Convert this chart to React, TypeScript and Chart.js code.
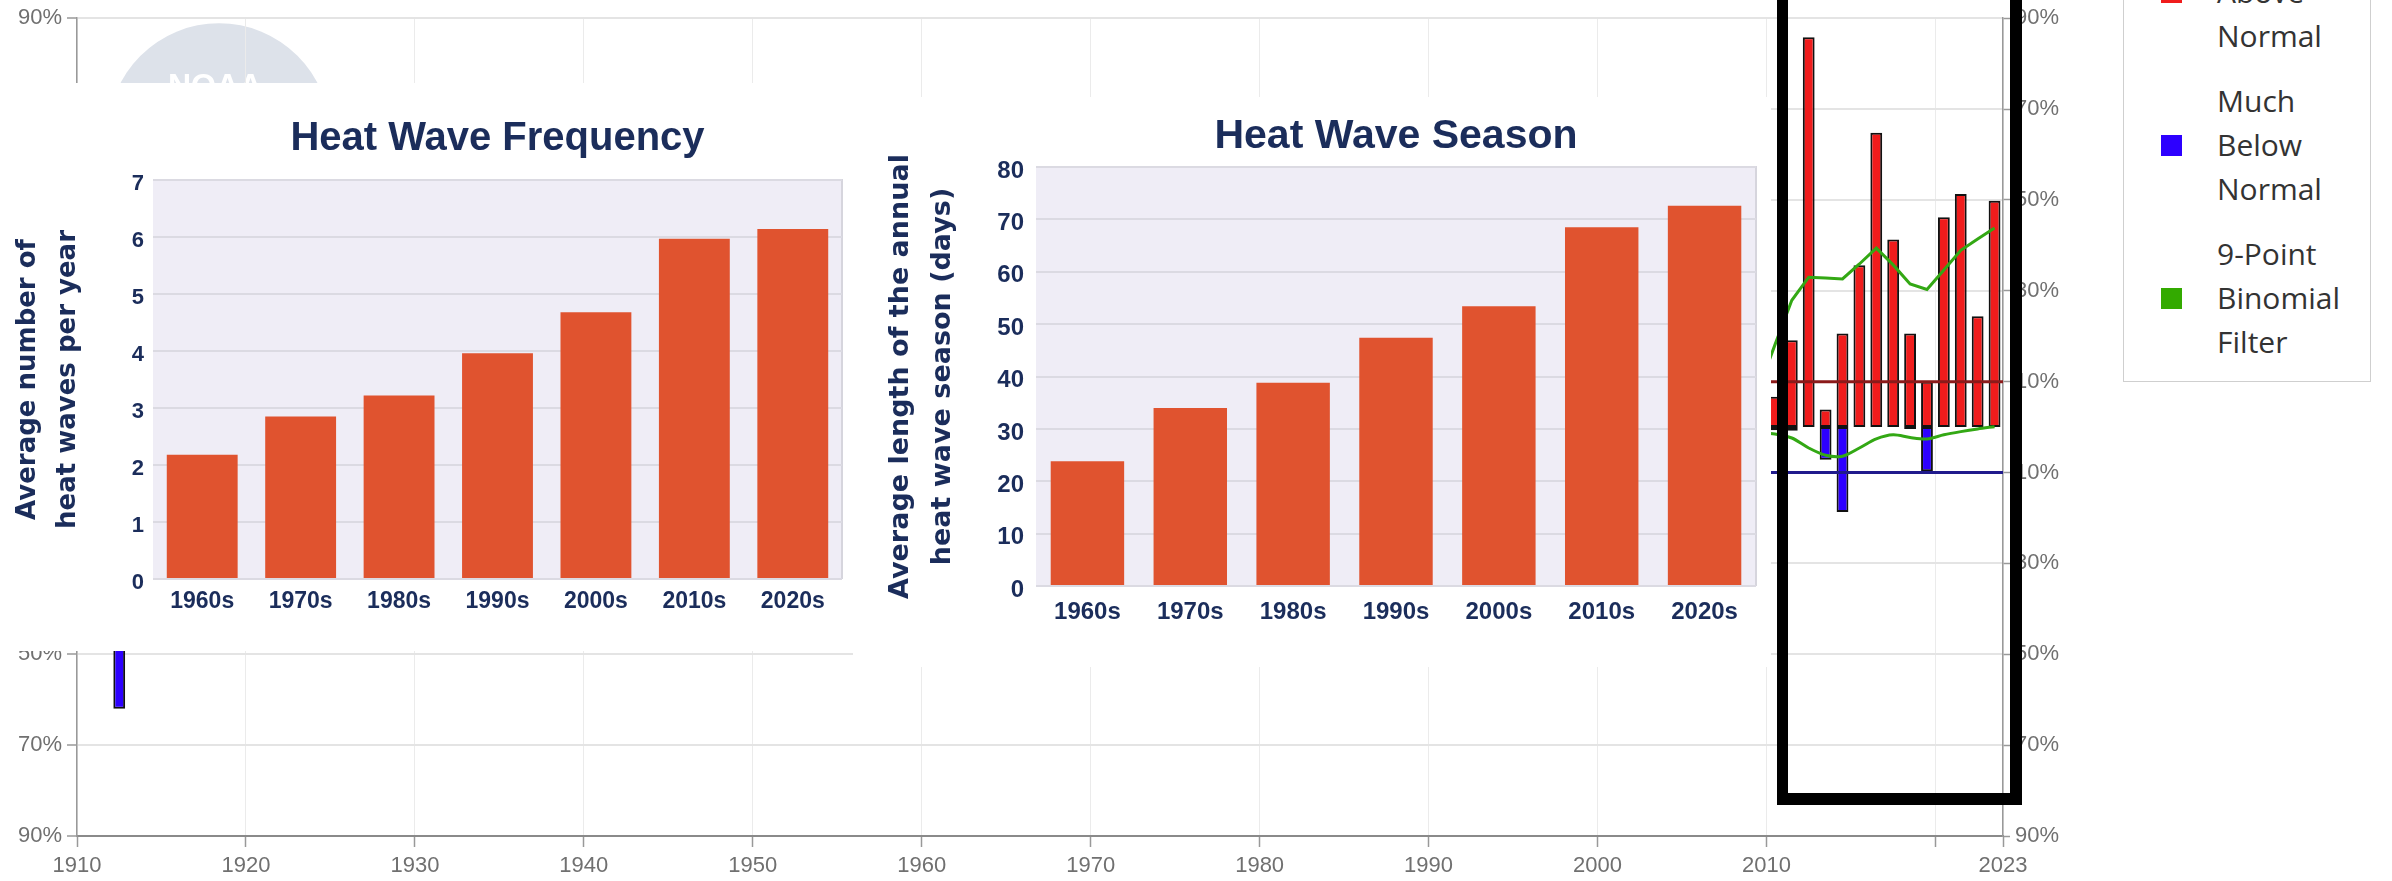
import React, { useEffect, useRef } from 'react';
import { Chart, registerables } from 'chart.js';

Chart.register(...registerables);

// ---------------- Background chart: percent of area much above / much below normal ----------------
const yearTicks = [1910, 1920, 1930, 1940, 1950, 1960, 1970, 1980, 1990, 2000, 2010, 2020, 2024];
const yearTickLabels = ['1910', '1920', '1930', '1940', '1950', '1960', '1970', '1980', '1990', '2000', '2010', '', '2023'];
const yearMin = 1910;
const yearMax = 2024;
const percentTicks = [-90, -70, -50, -30, -10, 10, 30, 50, 70, 90];

const aboveYears = [2010, 2011, 2012, 2013, 2014, 2015, 2016, 2017, 2018, 2019, 2020, 2021, 2022, 2023];
const aboveValues = [6.7, 19.1, 85.8, 3.9, 20.6, 35.6, 64.8, 41.3, 20.6, 10.0, 46.2, 51.3, 24.4, 49.8];

const belowYears = [1912, 2010, 2011, 2013, 2014, 2018, 2019];
const belowValues = [-62.0, -0.7, -0.8, -7.2, -18.7, -0.4, -9.7];

const filterYears = [2009, 2010, 2011, 2012, 2013, 2014, 2015, 2016, 2017, 2018, 2019, 2020, 2021, 2022, 2023];
const aboveFilter = [8.0, 18.1, 27.9, 33.0, 32.8, 32.6, 35.9, 39.4, 35.7, 31.5, 30.3, 34.6, 38.9, 41.4, 43.8];
const belowFilter = [-1.2, -1.5, -2.4, -4.6, -6.2, -6.4, -4.6, -2.6, -1.7, -2.3, -2.6, -1.7, -1.0, -0.4, 0.1];

const aboveMean = 10;
const belowMean = -10;

const legendLabels = [
  ['Much', 'Above', 'Normal'],
  ['Much', 'Below', 'Normal'],
  ['9-Point', 'Binomial', 'Filter'],
];
const legendColors = ['#f01c1c', '#2d00ff', '#33aa00'];

// ---------------- Inset charts ----------------
const decades = ['1960s', '1970s', '1980s', '1990s', '2000s', '2010s', '2020s'];
const frequencyValues = [2.18, 2.85, 3.22, 3.96, 4.68, 5.97, 6.14];
const seasonValues = [23.8, 34.0, 38.8, 47.4, 53.4, 68.5, 72.6];

const NAVY = '#1b2d5b';
const BAR = '#e0532f';
const AXIS_GRAY = '#707070';

const logoPlugin = {
  id: 'noaaLogo',
  beforeDraw(chart: any) {
    const { ctx, chartArea } = chart;
    const cx = chartArea.left + 142;
    const cy = chartArea.top + 116;
    ctx.save();
    ctx.fillStyle = '#dde2ea';
    ctx.beginPath();
    ctx.arc(cx, cy, 111, 0, Math.PI * 2);
    ctx.fill();
    ctx.fillStyle = '#ffffff';
    ctx.font = 'bold 32px "Liberation Sans", Arial, sans-serif';
    ctx.textAlign = 'center';
    ctx.textBaseline = 'alphabetic';
    ctx.fillText('NOAA', cx - 4, cy - 38);
    ctx.restore();
  },
};

const plotFrame = {
  id: 'plotFrame',
  beforeDraw(chart: any) {
    const { ctx, chartArea: a } = chart;
    ctx.save();
    ctx.fillStyle = '#efedf6';
    ctx.fillRect(a.left, a.top, a.right - a.left, a.bottom - a.top);
    ctx.strokeStyle = '#d6d5dd';
    ctx.lineWidth = 2;
    ctx.beginPath();
    ctx.moveTo(a.left, a.top);
    ctx.lineTo(a.right, a.top);
    ctx.lineTo(a.right, a.bottom);
    ctx.stroke();
    ctx.restore();
  },
};

function backgroundConfig(): any {
  const tickFont = { family: '"Liberation Sans", Arial, sans-serif', size: 22 };
  const xy = (years: number[], vals: number[]) => years.map((y, i) => ({ x: y + 0.5, y: vals[i] }));
  return {
    type: 'bar',
    data: {
      datasets: [
        {
          type: 'line', label: '9-Point Binomial Filter', data: xy(filterYears, aboveFilter),
          borderColor: '#33a814', borderWidth: 3, pointRadius: 0, tension: 0, order: 1,
        },
        {
          type: 'line', label: '9-Point Binomial Filter (below)', data: xy(filterYears, belowFilter),
          borderColor: '#33a814', borderWidth: 3, pointRadius: 0, tension: 0.3, order: 1,
        },
        {
          type: 'line', label: 'Above mean', data: [{ x: yearMin, y: aboveMean }, { x: yearMax, y: aboveMean }],
          borderColor: '#8b1a1a', borderWidth: 3, pointRadius: 0, order: 1,
        },
        {
          type: 'line', label: 'Below mean', data: [{ x: yearMin, y: belowMean }, { x: yearMax, y: belowMean }],
          borderColor: '#201a8c', borderWidth: 3, pointRadius: 0, order: 1,
        },
        {
          type: 'bar', label: 'Much Above Normal', data: xy(aboveYears, aboveValues),
          backgroundColor: '#f01c1c', borderColor: '#111111', borderWidth: 2, borderSkipped: false,
          barPercentage: 0.7, categoryPercentage: 1, grouped: false, order: 2,
        },
        {
          type: 'bar', label: 'Much Below Normal', data: xy(belowYears, belowValues),
          backgroundColor: '#2d00ff', borderColor: '#111111', borderWidth: 2, borderSkipped: false,
          barPercentage: 0.7, categoryPercentage: 1, grouped: false, order: 2,
        },
      ],
    },
    options: {
      animation: false,
      responsive: false,
      maintainAspectRatio: false,
      layout: { padding: { top: 15, left: 0, right: 0, bottom: 0 } },
      plugins: { legend: { display: false }, tooltip: { enabled: false }, title: { display: false } },
      scales: {
        x: {
          type: 'linear', min: yearMin, max: yearMax, offset: false,
          afterBuildTicks: (s: any) => { s.ticks = yearTicks.map((v) => ({ value: v })); },
          ticks: {
            autoSkip: false, maxRotation: 0, color: AXIS_GRAY, font: tickFont, padding: 6,
            callback: (v: number) => yearTickLabels[yearTicks.indexOf(v)] ?? '',
          },
          grid: { color: '#ebebeb', lineWidth: 1, offset: false, tickLength: 11, tickColor: '#999999', tickWidth: 1.5 },
          border: { color: '#8a8a8a', width: 2 },
          afterFit: (s: any) => { s.height = 45; },
        },
        y: {
          position: 'left', min: -90, max: 90,
          afterBuildTicks: (s: any) => { s.ticks = percentTicks.map((v) => ({ value: v })); },
          ticks: { color: AXIS_GRAY, font: tickFont, padding: 5, callback: (v: number) => Math.abs(v) + '%' },
          grid: { color: '#e4e4e4', lineWidth: 2, tickLength: 10, tickColor: '#999999', tickWidth: 1.5 },
          border: { color: '#999999', width: 1.5 },
          afterFit: (s: any) => { s.width = 77; },
        },
        y2: {
          position: 'right', min: -90, max: 90,
          afterBuildTicks: (s: any) => { s.ticks = percentTicks.map((v) => ({ value: v })); },
          ticks: { color: AXIS_GRAY, font: tickFont, padding: 5, callback: (v: number) => Math.abs(v) + '%' },
          grid: { drawOnChartArea: false, tickLength: 7, tickColor: '#999999', tickWidth: 1.5 },
          border: { color: '#999999', width: 1.5 },
          afterFit: (s: any) => { s.width = 389; },
        },
      },
    },
    plugins: [logoPlugin],
  };
}

function insetConfig(p: {
  title: string; titleSize: number; titleLH: number; titleTop: number; titleBottom: number;
  values: number[]; max: number; step: number;
  yTitle: string[]; yTitleSize: number; yTitleLH: number; yTitlePad: number;
  yWidth: number; xHeight: number; padRight: number;
  yTickSize: number; yTickPad: number; xTickSize: number; xTickPad: number; barPct: number;
}): any {
  const bold = '"Liberation Sans", Arial, sans-serif';
  return {
    type: 'bar',
    data: {
      labels: decades,
      datasets: [{ data: p.values, backgroundColor: BAR, borderWidth: 0, barPercentage: p.barPct, categoryPercentage: 1 }],
    },
    options: {
      animation: false,
      responsive: false,
      maintainAspectRatio: false,
      layout: { padding: { left: 0, right: p.padRight, top: 0, bottom: 0 } },
      plugins: {
        legend: { display: false },
        tooltip: { enabled: false },
        title: {
          display: true, text: p.title, fullSize: false, color: NAVY,
          font: { family: bold, size: p.titleSize, weight: 'bold', lineHeight: p.titleLH + 'px' },
          padding: { top: p.titleTop, bottom: p.titleBottom },
        },
      },
      scales: {
        x: {
          grid: { display: false, drawTicks: false }, border: { display: false },
          ticks: { color: NAVY, font: { family: bold, size: p.xTickSize, weight: 'bold' }, padding: p.xTickPad },
          afterFit: (s: any) => { s.height = p.xHeight; },
        },
        y: {
          min: 0, max: p.max,
          ticks: { stepSize: p.step, color: NAVY, font: { family: bold, size: p.yTickSize, weight: 'bold' }, padding: p.yTickPad, labelOffset: 4 },
          grid: { color: '#dbdae2', lineWidth: 2, drawTicks: false },
          border: { display: false },
          title: {
            display: true, text: p.yTitle, color: NAVY,
            font: { family: '"DejaVu Sans", sans-serif', size: p.yTitleSize, weight: 'bold', lineHeight: p.yTitleLH + 'px' },
            padding: { top: p.yTitlePad, bottom: 0 },
          },
          afterFit: (s: any) => { s.width = p.yWidth; },
        },
      },
    },
    plugins: [plotFrame],
  };
}

function ChartCanvas({ width, height, makeConfig }: { width: number; height: number; makeConfig: () => any }) {
  const ref = useRef<HTMLCanvasElement>(null);
  useEffect(() => {
    const chart = new Chart(ref.current as HTMLCanvasElement, makeConfig());
    return () => chart.destroy();
  }, []);
  return <canvas ref={ref} width={width} height={height} style={{ display: 'block', width, height }} />;
}

function Legend() {
  const top = -200;
  return (
    <div
      style={{
        position: 'absolute', left: 2123, top, width: 248, height: 382 - top,
        border: '1px solid #cfcfcf', boxSizing: 'border-box', background: '#ffffff',
        fontFamily: '"Open Sans", "Noto Sans", sans-serif', fontSize: 30, color: '#333333',
      }}
    >
      {legendLabels.map((lines, i) => {
        const firstCenter = -53 + 153 * i - top;
        return (
          <div key={i}>
            <div
              style={{
                position: 'absolute', left: 37, top: firstCenter + 44 - 10.5,
                width: 21, height: 21, background: legendColors[i],
              }}
            />
            {lines.map((t, j) => (
              <div
                key={j}
                style={{
                  position: 'absolute', left: 93, top: firstCenter + 44 * j - 22,
                  height: 44, lineHeight: '44px', whiteSpace: 'nowrap',
                }}
              >
                {t}
              </div>
            ))}
          </div>
        );
      })}
    </div>
  );
}

export default function App() {
  return (
    <div style={{ position: 'absolute', left: 0, top: 0, width: 2392, height: 881, overflow: 'hidden', background: '#ffffff' }}>
      <div style={{ position: 'absolute', left: 0, top: 0 }}>
        <ChartCanvas width={2392} height={881} makeConfig={backgroundConfig} />
      </div>

      <div style={{ position: 'absolute', left: 0, top: 83, width: 853, height: 568, background: '#ffffff' }}>
        <ChartCanvas
          width={853}
          height={568}
          makeConfig={() =>
            insetConfig({
              title: 'Heat Wave Frequency', titleSize: 40, titleLH: 44, titleTop: 34, titleBottom: 19,
              values: frequencyValues, max: 7, step: 1,
              yTitle: ['Average number of', 'heat waves per year'], yTitleSize: 26, yTitleLH: 40, yTitlePad: 8,
              yWidth: 153, xHeight: 72, padRight: 11,
              yTickSize: 22, yTickPad: 9, xTickSize: 23, xTickPad: 9, barPct: 0.72,
            })
          }
        />
      </div>

      <div style={{ position: 'absolute', left: 853, top: 97, width: 918, height: 570, background: '#ffffff' }}>
        <ChartCanvas
          width={918}
          height={570}
          makeConfig={() =>
            insetConfig({
              title: 'Heat Wave Season', titleSize: 41, titleLH: 46, titleTop: 17, titleBottom: 7,
              values: seasonValues, max: 80, step: 10,
              yTitle: ['Average length of the annual', 'heat wave season (days)'], yTitleSize: 27, yTitleLH: 42, yTitlePad: 27,
              yWidth: 183, xHeight: 81, padRight: 15,
              yTickSize: 24, yTickPad: 12, xTickSize: 24, xTickPad: 12, barPct: 0.714,
            })
          }
        />
      </div>

      <div
        style={{
          position: 'absolute', left: 1777, top: -40, width: 245, height: 845,
          borderStyle: 'solid', borderColor: '#000000',
          borderLeftWidth: 11, borderRightWidth: 12, borderBottomWidth: 12, borderTopWidth: 12,
          boxSizing: 'border-box',
        }}
      />

      <Legend />
    </div>
  );
}
